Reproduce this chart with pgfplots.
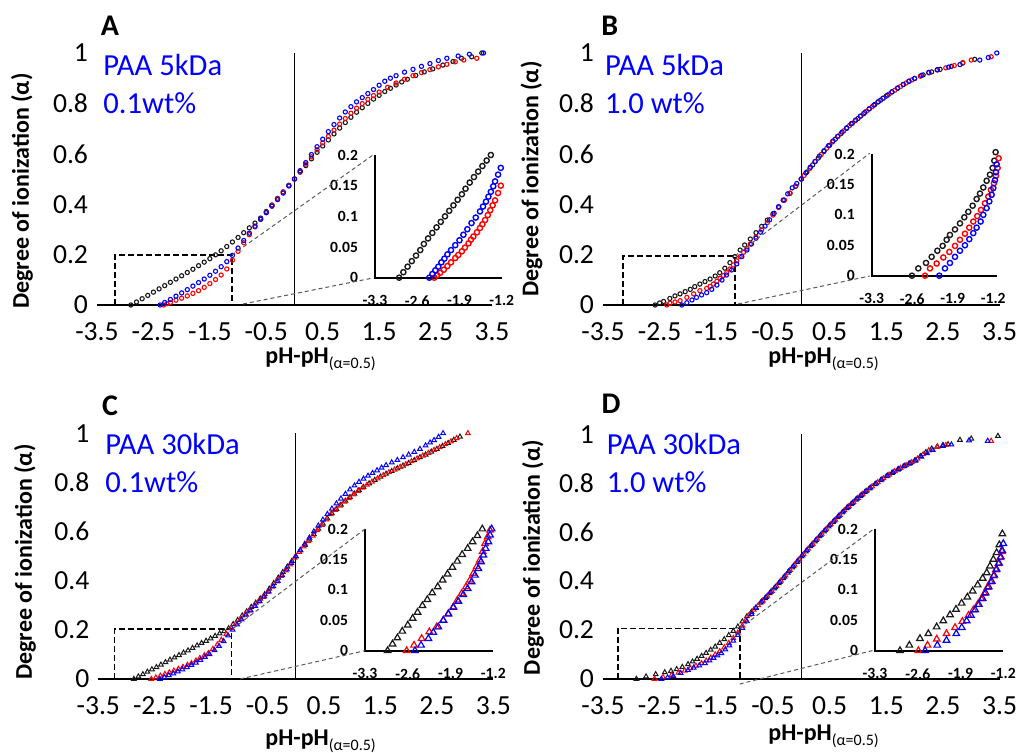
\documentclass[border=0pt]{standalone}
\usepackage{pgfplots}
\pgfplotsset{compat=1.18}
\usepackage{fontspec}
\setmainfont{Carlito}
\definecolor{cred}{RGB}{255,0,0}
\definecolor{cblue}{RGB}{0,0,255}
\definecolor{cblk}{RGB}{25,25,25}
\definecolor{cgray}{RGB}{90,90,90}
\pgfplotsset{
  mainax/.style={scale only axis, anchor=south west, xmin=-3.5, xmax=3.5, ymin=0, ymax=1, clip=false,
    axis line style={draw=none}, tick style={draw=none}, major tick length=0pt,
    xtick={-3.5,-2.5,-1.5,-0.5,0.5,1.5,2.5,3.5}, xticklabels={-3.5,-2.5,-1.5,-0.5,0.5,1.5,2.5,3.5},
    ytick={0,0.2,0.4,0.6,0.8,1}, yticklabels={0,0.2,0.4,0.6,0.8,1},
    every tick label/.append style={font=\fontsize{13.8bp}{13.8bp}\selectfont},
    xticklabel style={yshift=-5.5bp}, yticklabel style={xshift=-1bp}},
  insetax/.style={scale only axis, anchor=south west, xmin=-3.3, ymin=0, ymax=0.2, clip=false,
    axis line style={draw=none}, tick style={draw=none}, major tick length=0pt,
    xtick={-3.3,-2.6,-1.9,-1.2}, xticklabels={-3.3,-2.6,-1.9,-1.2},
    ytick={0,0.05,0.1,0.15,0.2}, yticklabels={0,0.05,0.1,0.15,0.2},
    every tick label/.append style={font=\bfseries\fontsize{7.8bp}{7.8bp}\selectfont},
    xticklabel style={yshift=-5.5bp}, yticklabel style={xshift=-5bp}},
  mo/.style={only marks, mark=o, mark size=1.05bp, mark options={line width=0.55bp}, color=#1},
  io/.style={only marks, mark=o, mark size=1.3bp, mark options={line width=0.7bp}, color=#1},
  mt/.style={only marks, mark=triangle, mark size=1.35bp, mark options={line width=0.5bp}, color=#1},
  it/.style={only marks, mark=triangle, mark size=1.9bp, mark options={line width=0.6bp}, color=#1},
}
\tikzset{
  rectdash/.style={black, line width=0.8bp, dash pattern=on 3bp off 1.5bp},
  conn/.style={cgray, line width=0.5bp, dash pattern=on 2bp off 1.5bp},
  letter/.style={font=\bfseries\fontsize{15bp}{15bp}\selectfont},
  bluetxt/.style={anchor=base west, inner sep=0pt, text=cblue, font=\fontsize{15.3bp}{15.3bp}\selectfont},
  ylab/.style={rotate=90, font=\bfseries\fontsize{12bp}{12bp}\selectfont},
  xlab/.style={anchor=base west, inner sep=0pt, font=\fontsize{12bp}{12bp}\selectfont},
}
\newcommand{\xlabtext}{\textbf{pH-pH}\raisebox{-2.5bp}{\fontsize{8bp}{8bp}\selectfont(α=0.5)}}

\begin{document}
\begin{tikzpicture}
\useasboundingbox (0,0) rectangle (508.5bp,376.5bp);

% ---------------- A ----------------
\begin{axis}[mainax, at={(48.5bp,224bp)}, width=197.5bp, height=126bp]
\addplot[mo=cblk] coordinates {(-2.90,0.000) (-2.80,0.012) (-2.70,0.025) (-2.60,0.038) (-2.50,0.051) (-2.40,0.064) (-2.30,0.077) (-2.20,0.090) (-2.10,0.103) (-2.00,0.116) (-1.90,0.129) (-1.80,0.142) (-1.70,0.156) (-1.60,0.170) (-1.50,0.184) (-1.40,0.199) (-1.30,0.215) (-1.20,0.232) (-1.10,0.250) (-1.00,0.268) (-0.90,0.287) (-0.80,0.306) (-0.70,0.325) (-0.60,0.345) (-0.50,0.371) (-0.40,0.397) (-0.30,0.423) (-0.20,0.449) (-0.10,0.475) (0.00,0.500) (0.10,0.527) (0.20,0.553) (0.30,0.580) (0.40,0.606) (0.50,0.631) (0.60,0.655) (0.70,0.679) (0.80,0.702) (0.90,0.724) (1.00,0.745) (1.10,0.765) (1.20,0.783) (1.30,0.800) (1.40,0.817) (1.50,0.832) (1.60,0.847) (1.70,0.860) (1.80,0.873) (1.90,0.885) (2.00,0.896) (2.15,0.911) (2.30,0.925) (2.45,0.937) (2.63,0.952) (2.81,0.966) (2.96,0.979) (3.14,0.985) (3.32,1.000)};
\addplot[mo=cred] coordinates {(-2.32,0.000) (-2.26,0.005) (-2.20,0.010) (-2.10,0.019) (-2.00,0.027) (-1.90,0.036) (-1.80,0.046) (-1.70,0.057) (-1.60,0.070) (-1.50,0.085) (-1.40,0.101) (-1.30,0.119) (-1.20,0.143) (-1.10,0.178) (-1.00,0.213) (-0.90,0.247) (-0.80,0.279) (-0.70,0.310) (-0.60,0.340) (-0.50,0.368) (-0.40,0.395) (-0.30,0.422) (-0.20,0.448) (-0.10,0.474) (0.00,0.500) (0.10,0.530) (0.20,0.559) (0.30,0.588) (0.40,0.616) (0.50,0.643) (0.60,0.669) (0.70,0.694) (0.80,0.718) (0.90,0.740) (1.00,0.761) (1.10,0.781) (1.20,0.799) (1.30,0.816) (1.40,0.831) (1.50,0.845) (1.65,0.864) (1.80,0.881) (1.95,0.896) (2.10,0.910) (2.25,0.922) (2.40,0.934) (2.55,0.945) (2.70,0.955) (2.85,0.965) (3.00,0.972) (3.23,0.979)};
\addplot[mo=cblue] coordinates {(-2.38,0.000) (-2.30,0.010) (-2.20,0.022) (-2.10,0.035) (-2.00,0.048) (-1.90,0.061) (-1.80,0.075) (-1.70,0.089) (-1.60,0.103) (-1.50,0.118) (-1.40,0.134) (-1.30,0.152) (-1.20,0.172) (-1.10,0.197) (-1.00,0.226) (-0.90,0.256) (-0.80,0.285) (-0.70,0.313) (-0.60,0.340) (-0.50,0.366) (-0.40,0.392) (-0.30,0.418) (-0.20,0.444) (-0.10,0.472) (0.00,0.500) (0.10,0.533) (0.20,0.565) (0.30,0.597) (0.40,0.628) (0.50,0.658) (0.60,0.688) (0.70,0.716) (0.80,0.742) (0.90,0.766) (1.00,0.787) (1.10,0.806) (1.20,0.823) (1.30,0.839) (1.40,0.855) (1.50,0.872) (1.60,0.888) (1.70,0.900) (1.80,0.910) (1.95,0.924) (2.10,0.935) (2.25,0.947) (2.40,0.958) (2.55,0.970) (2.70,0.979) (2.90,0.988) (3.10,0.995) (3.35,1.000)};
\draw[line width=1bp] (axis cs:-3.5,0) -- (axis cs:3.5,0);
\draw[line width=0.7bp] (axis cs:0,0) -- (axis cs:0,1);
\draw[rectdash] (axis cs:-3.18,0) -- (axis cs:-3.18,0.198) -- (axis cs:-1.11,0.198) -- (axis cs:-1.11,0);
\end{axis}
\begin{axis}[insetax, at={(187.5bp,237.65bp)}, width=63.35bp, height=61.35bp, xmax=-1.2]
\addplot[io=cblk] coordinates {(-2.90,0.000) (-2.83,0.009) (-2.76,0.018) (-2.69,0.027) (-2.62,0.036) (-2.55,0.045) (-2.49,0.055) (-2.42,0.064) (-2.35,0.073) (-2.28,0.082) (-2.21,0.091) (-2.14,0.100) (-2.07,0.109) (-2.00,0.118) (-1.93,0.127) (-1.86,0.136) (-1.80,0.145) (-1.73,0.155) (-1.66,0.164) (-1.59,0.173) (-1.52,0.182) (-1.45,0.191) (-1.38,0.200)};
\addplot[io=cred] coordinates {(-2.317,0.000) (-2.27,0.004) (-2.22,0.008) (-2.16,0.013) (-2.10,0.019) (-2.04,0.025) (-1.97,0.032) (-1.92,0.037) (-1.86,0.043) (-1.81,0.049) (-1.75,0.056) (-1.71,0.062) (-1.67,0.067) (-1.61,0.074) (-1.56,0.081) (-1.52,0.087) (-1.475,0.094) (-1.43,0.102) (-1.39,0.110) (-1.35,0.118) (-1.31,0.126) (-1.26,0.138) (-1.215,0.150)};
\addplot[io=cblue] coordinates {(-2.40,0.000) (-2.35,0.006) (-2.30,0.012) (-2.25,0.018) (-2.20,0.025) (-2.15,0.031) (-2.10,0.038) (-2.04,0.045) (-1.97,0.053) (-1.90,0.061) (-1.835,0.070) (-1.77,0.079) (-1.70,0.089) (-1.63,0.098) (-1.56,0.108) (-1.51,0.116) (-1.46,0.124) (-1.42,0.132) (-1.38,0.140) (-1.34,0.149) (-1.31,0.157) (-1.26,0.168) (-1.215,0.179)};
\draw[line width=1bp] (axis cs:-3.3,0.2) -- (axis cs:-3.3,0) -- (axis cs:-1.2,0);
\end{axis}
\draw[conn] (116bp,249bp) -- (186.5bp,299bp);
\draw[conn] (121.5bp,224.5bp) -- (186.5bp,237.5bp);
\node[letter] at (55bp,363.5bp) {A};
\node[bluetxt] at (51.5bp,338.5bp) {PAA 5kDa};
\node[bluetxt] at (51.5bp,319.85bp) {0.1wt\%};
\node[ylab] at (11bp,281bp) {Degree of ionization (α)};
\node[xlab] at (132.5bp,194.5bp) {\xlabtext};

% ---------------- B ----------------
\begin{axis}[mainax, at={(301.5bp,224bp)}, width=198.3bp, height=126bp]
\addplot[mo=cblk] coordinates {(-2.58,0.000) (-2.50,0.008) (-2.43,0.014) (-2.32,0.026) (-2.23,0.036) (-2.14,0.044) (-2.05,0.053) (-1.96,0.062) (-1.88,0.073) (-1.79,0.083) (-1.70,0.093) (-1.61,0.103) (-1.52,0.115) (-1.44,0.128) (-1.35,0.146) (-1.26,0.168) (-1.17,0.192) (-1.08,0.218) (-1.00,0.238) (-0.90,0.262) (-0.80,0.287) (-0.70,0.312) (-0.60,0.337) (-0.50,0.362) (-0.40,0.389) (-0.30,0.416) (-0.20,0.443) (-0.10,0.471) (0.00,0.500) (0.10,0.528) (0.20,0.556) (0.30,0.583) (0.40,0.609) (0.50,0.634) (0.60,0.658) (0.70,0.680) (0.80,0.701) (0.90,0.721) (1.00,0.740) (1.10,0.759) (1.20,0.778) (1.30,0.796) (1.40,0.813) (1.50,0.829) (1.60,0.845) (1.70,0.860) (1.80,0.875) (1.90,0.888) (2.00,0.899) (2.15,0.913) (2.30,0.925) (2.45,0.935) (2.65,0.947) (2.85,0.960) (3.06,0.975)};
\addplot[mo=cred] coordinates {(-2.375,0.000) (-2.32,0.007) (-2.23,0.012) (-2.14,0.017) (-2.02,0.030) (-1.90,0.044) (-1.79,0.057) (-1.67,0.066) (-1.61,0.074) (-1.55,0.083) (-1.49,0.094) (-1.435,0.106) (-1.375,0.117) (-1.316,0.128) (-1.26,0.143) (-1.20,0.159) (-1.14,0.175) (-1.08,0.192) (-1.02,0.209) (-0.96,0.225) (-0.90,0.242) (-0.80,0.270) (-0.70,0.298) (-0.60,0.327) (-0.50,0.357) (-0.40,0.387) (-0.30,0.416) (-0.20,0.444) (-0.10,0.472) (0.00,0.500) (0.05,0.514) (0.15,0.542) (0.25,0.570) (0.35,0.597) (0.45,0.622) (0.55,0.647) (0.65,0.670) (0.75,0.691) (0.85,0.712) (0.95,0.731) (1.05,0.750) (1.15,0.769) (1.25,0.787) (1.35,0.805) (1.45,0.821) (1.55,0.837) (1.65,0.852) (1.75,0.867) (1.85,0.881) (1.95,0.893) (2.10,0.908) (2.25,0.921) (2.40,0.932) (2.55,0.941) (2.70,0.950) (2.85,0.962) (3.00,0.972) (3.35,0.985)};
\addplot[mo=cblue] coordinates {(-2.11,0.000) (-2.02,0.009) (-1.93,0.020) (-1.85,0.030) (-1.76,0.040) (-1.67,0.049) (-1.58,0.062) (-1.49,0.079) (-1.40,0.099) (-1.32,0.119) (-1.23,0.139) (-1.14,0.163) (-1.05,0.192) (-0.96,0.218) (-0.88,0.242) (-0.80,0.265) (-0.72,0.289) (-0.64,0.313) (-0.56,0.338) (-0.48,0.364) (-0.40,0.390) (-0.32,0.416) (-0.24,0.441) (-0.16,0.465) (-0.08,0.482) (0.00,0.500) (0.08,0.524) (0.16,0.547) (0.24,0.569) (0.32,0.591) (0.40,0.612) (0.48,0.632) (0.56,0.651) (0.64,0.669) (0.72,0.686) (0.80,0.703) (0.88,0.719) (0.96,0.734) (1.04,0.749) (1.12,0.764) (1.20,0.779) (1.28,0.793) (1.36,0.807) (1.44,0.820) (1.52,0.833) (1.60,0.846) (1.70,0.861) (1.80,0.875) (1.90,0.888) (2.00,0.899) (2.12,0.911) (2.25,0.923) (2.40,0.934) (2.60,0.944) (2.80,0.954) (3.15,0.972) (3.30,0.982) (3.45,1.000)};
\draw[line width=1bp] (axis cs:-3.5,0) -- (axis cs:3.5,0);
\draw[line width=0.7bp] (axis cs:0,0) -- (axis cs:0,1);
\draw[rectdash] (axis cs:-3.15,0) -- (axis cs:-3.15,0.195) -- (axis cs:-1.17,0.195) -- (axis cs:-1.17,0);
\end{axis}
\begin{axis}[insetax, at={(435.85bp,238.65bp)}, width=62.5bp, height=60.85bp, xmax=-1.14]
\addplot[io=cblk] coordinates {(-2.604,0.000) (-2.495,0.012) (-2.362,0.021) (-2.264,0.031) (-2.166,0.041) (-2.074,0.049) (-2.005,0.059) (-1.948,0.067) (-1.861,0.076) (-1.775,0.086) (-1.700,0.096) (-1.631,0.105) (-1.556,0.115) (-1.487,0.126) (-1.429,0.135) (-1.372,0.145) (-1.314,0.156) (-1.257,0.166) (-1.211,0.177) (-1.182,0.189) (-1.159,0.203)};
\addplot[io=cred] coordinates {(-2.379,0.000) (-2.293,0.012) (-2.178,0.020) (-2.063,0.030) (-1.959,0.039) (-1.861,0.049) (-1.775,0.059) (-1.689,0.069) (-1.614,0.079) (-1.545,0.089) (-1.476,0.098) (-1.412,0.108) (-1.343,0.119) (-1.286,0.130) (-1.240,0.141) (-1.188,0.152) (-1.153,0.164) (-1.124,0.177) (-1.107,0.193)};
\addplot[io=cblue] coordinates {(-2.132,0.000) (-2.034,0.012) (-1.948,0.021) (-1.861,0.031) (-1.775,0.041) (-1.689,0.050) (-1.614,0.060) (-1.545,0.070) (-1.487,0.079) (-1.418,0.089) (-1.372,0.100) (-1.314,0.111) (-1.268,0.122) (-1.227,0.133) (-1.199,0.144) (-1.170,0.157) (-1.153,0.170) (-1.141,0.183)};
\draw[line width=1bp] (axis cs:-3.3,0.2) -- (axis cs:-3.3,0) -- (axis cs:-1.14,0);
\end{axis}
\draw[conn] (367.35bp,248.5bp) -- (434.85bp,299.85bp);
\draw[conn] (369bp,224.5bp) -- (434.85bp,238.5bp);
\node[letter] at (304.85bp,363.5bp) {B};
\node[bluetxt] at (302.35bp,338.5bp) {PAA 5kDa};
\node[bluetxt] at (302.35bp,319.85bp) {1.0 wt\%};
\node[ylab] at (265.7bp,287bp) {Degree of ionization (α)};
\node[xlab] at (384bp,194.5bp) {\xlabtext};

% ---------------- C ----------------
\begin{axis}[mainax, at={(49.15bp,37bp)}, width=197.5bp, height=122.85bp]
\addplot[mt=cblk] coordinates {(-2.87,0.000) (-2.79,0.010) (-2.71,0.019) (-2.63,0.029) (-2.55,0.039) (-2.47,0.048) (-2.39,0.058) (-2.31,0.068) (-2.23,0.078) (-2.15,0.087) (-2.07,0.097) (-1.99,0.107) (-1.91,0.116) (-1.83,0.126) (-1.75,0.136) (-1.67,0.146) (-1.59,0.155) (-1.51,0.165) (-1.43,0.175) (-1.35,0.185) (-1.27,0.194) (-1.19,0.206) (-1.11,0.223) (-1.03,0.240) (-0.95,0.258) (-0.87,0.275) (-0.79,0.293) (-0.71,0.310) (-0.63,0.327) (-0.55,0.345) (-0.47,0.367) (-0.39,0.390) (-0.31,0.412) (-0.23,0.435) (-0.15,0.457) (-0.07,0.480) (0.00,0.500) (0.08,0.523) (0.16,0.545) (0.24,0.567) (0.32,0.589) (0.40,0.611) (0.48,0.632) (0.56,0.653) (0.64,0.674) (0.72,0.692) (0.80,0.709) (0.88,0.725) (0.96,0.740) (1.04,0.754) (1.12,0.768) (1.20,0.781) (1.30,0.796) (1.40,0.810) (1.50,0.823) (1.60,0.835) (1.70,0.846) (1.80,0.857) (1.90,0.868) (2.00,0.879) (2.10,0.890) (2.20,0.902) (2.30,0.913) (2.40,0.925) (2.50,0.936) (2.60,0.948) (2.70,0.960) (2.80,0.973) (2.91,0.986)};
\addplot[mt=cred] coordinates {(-2.56,0.000) (-2.48,0.006) (-2.40,0.013) (-2.32,0.020) (-2.24,0.027) (-2.16,0.034) (-2.08,0.041) (-2.00,0.049) (-1.92,0.057) (-1.85,0.064) (-1.77,0.075) (-1.70,0.085) (-1.62,0.096) (-1.55,0.105) (-1.47,0.122) (-1.39,0.140) (-1.32,0.159) (-1.23,0.183) (-1.14,0.206) (-1.06,0.226) (-0.98,0.244) (-0.90,0.262) (-0.82,0.279) (-0.74,0.297) (-0.66,0.315) (-0.58,0.334) (-0.50,0.354) (-0.42,0.375) (-0.34,0.397) (-0.26,0.419) (-0.18,0.442) (-0.10,0.466) (-0.02,0.493) (0.06,0.517) (0.14,0.539) (0.22,0.561) (0.30,0.583) (0.38,0.605) (0.46,0.627) (0.54,0.649) (0.62,0.670) (0.70,0.688) (0.78,0.705) (0.86,0.721) (0.94,0.736) (1.02,0.751) (1.10,0.765) (1.18,0.778) (1.26,0.790) (1.35,0.803) (1.45,0.816) (1.55,0.829) (1.65,0.841) (1.75,0.852) (1.85,0.863) (1.95,0.874) (2.05,0.886) (2.15,0.897) (2.25,0.909) (2.35,0.920) (2.45,0.932) (2.55,0.943) (2.65,0.955) (2.75,0.967) (2.85,0.980) (3.05,1.000)};
\addplot[mt=cblue] coordinates {(-2.41,0.000) (-2.33,0.007) (-2.25,0.015) (-2.17,0.022) (-2.09,0.030) (-2.01,0.039) (-1.93,0.048) (-1.85,0.057) (-1.77,0.066) (-1.69,0.077) (-1.61,0.089) (-1.53,0.101) (-1.44,0.117) (-1.36,0.134) (-1.28,0.154) (-1.20,0.177) (-1.12,0.200) (-1.04,0.222) (-0.96,0.242) (-0.88,0.261) (-0.80,0.279) (-0.72,0.297) (-0.64,0.316) (-0.56,0.336) (-0.48,0.356) (-0.40,0.377) (-0.32,0.399) (-0.24,0.422) (-0.16,0.446) (-0.08,0.472) (0.00,0.498) (0.08,0.525) (0.16,0.550) (0.24,0.575) (0.32,0.600) (0.40,0.624) (0.48,0.648) (0.56,0.671) (0.64,0.693) (0.72,0.714) (0.80,0.734) (0.88,0.753) (0.96,0.771) (1.04,0.787) (1.12,0.802) (1.20,0.815) (1.28,0.827) (1.36,0.838) (1.44,0.849) (1.52,0.860) (1.60,0.870) (1.70,0.881) (1.80,0.891) (1.90,0.902) (2.00,0.913) (2.10,0.924) (2.20,0.936) (2.30,0.950) (2.38,0.962) (2.45,0.972) (2.53,0.985) (2.61,1.000)};
\draw[line width=1bp] (axis cs:-3.5,0) -- (axis cs:3.5,0);
\draw[line width=0.7bp] (axis cs:0,0) -- (axis cs:0,1);
\draw[rectdash] (axis cs:-3.21,0) -- (axis cs:-3.21,0.203) -- (axis cs:-1.14,0.203) -- (axis cs:-1.14,0);
\end{axis}
\begin{axis}[insetax, at={(182.5bp,51.15bp)}, width=64.15bp, height=60.85bp, xmax=-1.2]
\addplot[it=cblk] coordinates {(-2.93,0.000) (-2.85,0.011) (-2.77,0.021) (-2.69,0.032) (-2.60,0.042) (-2.52,0.053) (-2.44,0.063) (-2.36,0.074) (-2.28,0.084) (-2.20,0.095) (-2.11,0.105) (-2.03,0.116) (-1.95,0.126) (-1.87,0.137) (-1.79,0.147) (-1.71,0.158) (-1.62,0.168) (-1.54,0.179) (-1.46,0.189) (-1.38,0.200)};
\addplot[it=cred] coordinates {(-2.618,0.000) (-2.498,0.009) (-2.373,0.020) (-2.247,0.031) (-2.127,0.039) (-2.018,0.050) (-1.936,0.061) (-1.854,0.072) (-1.789,0.083) (-1.718,0.094) (-1.647,0.105) (-1.581,0.116) (-1.527,0.127) (-1.472,0.138) (-1.418,0.149) (-1.374,0.163) (-1.336,0.176) (-1.292,0.187) (-1.254,0.198)};
\addplot[it=cblue] coordinates {(-2.482,0.000) (-2.383,0.009) (-2.263,0.020) (-2.182,0.030) (-2.100,0.039) (-2.018,0.050) (-1.936,0.060) (-1.854,0.071) (-1.772,0.081) (-1.691,0.092) (-1.620,0.102) (-1.554,0.113) (-1.500,0.124) (-1.445,0.135) (-1.401,0.146) (-1.363,0.157) (-1.325,0.168) (-1.281,0.179) (-1.254,0.190) (-1.227,0.200)};
\draw[line width=1bp] (axis cs:-3.3,0.2) -- (axis cs:-3.3,0) -- (axis cs:-1.2,0);
\end{axis}
\draw[conn] (116.65bp,62.35bp) -- (182.5bp,112bp);
\draw[conn] (120bp,37bp) -- (182.5bp,51.15bp);
\node[letter] at (55bp,173.5bp) {C};
\node[bluetxt] at (52.5bp,149bp) {PAA 30kDa};
\node[bluetxt] at (52.5bp,130.2bp) {0.1wt\%};
\node[ylab] at (12.5bp,95.5bp) {Degree of ionization (α)};
\node[xlab] at (132.5bp,4bp) {\xlabtext};

% ---------------- D ----------------
\begin{axis}[mainax, at={(301.5bp,37bp)}, width=198.3bp, height=122.35bp]
\addplot[mt=cblk] coordinates {(-2.91,0.000) (-2.74,0.010) (-2.57,0.019) (-2.41,0.027) (-2.30,0.033) (-2.20,0.040) (-2.10,0.049) (-2.00,0.060) (-1.92,0.071) (-1.84,0.082) (-1.76,0.094) (-1.68,0.106) (-1.60,0.119) (-1.52,0.132) (-1.44,0.147) (-1.36,0.162) (-1.28,0.179) (-1.20,0.196) (-1.12,0.214) (-1.04,0.235) (-0.96,0.256) (-0.88,0.274) (-0.80,0.292) (-0.72,0.311) (-0.64,0.330) (-0.56,0.350) (-0.48,0.370) (-0.40,0.391) (-0.32,0.412) (-0.24,0.434) (-0.16,0.456) (-0.08,0.478) (0.00,0.500) (0.08,0.521) (0.16,0.542) (0.24,0.562) (0.32,0.583) (0.40,0.603) (0.48,0.623) (0.56,0.642) (0.64,0.661) (0.72,0.680) (0.80,0.698) (0.88,0.715) (0.96,0.732) (1.04,0.748) (1.12,0.763) (1.20,0.778) (1.30,0.796) (1.40,0.812) (1.50,0.828) (1.60,0.842) (1.70,0.855) (1.80,0.868) (1.90,0.880) (2.00,0.892) (2.10,0.910) (2.20,0.927) (2.30,0.941) (2.40,0.950) (2.50,0.956) (2.59,0.959) (2.80,0.977) (3.00,0.982) (3.47,0.993)};
\addplot[mt=cred] coordinates {(-2.59,0.000) (-2.44,0.008) (-2.29,0.016) (-2.17,0.025) (-2.06,0.034) (-1.96,0.044) (-1.86,0.054) (-1.76,0.064) (-1.68,0.075) (-1.60,0.087) (-1.52,0.100) (-1.44,0.113) (-1.36,0.129) (-1.28,0.147) (-1.20,0.167) (-1.12,0.189) (-1.04,0.218) (-0.98,0.240) (-0.92,0.262) (-0.84,0.283) (-0.76,0.301) (-0.68,0.320) (-0.60,0.340) (-0.52,0.360) (-0.44,0.380) (-0.36,0.401) (-0.28,0.423) (-0.20,0.445) (-0.12,0.467) (-0.04,0.489) (0.04,0.510) (0.12,0.532) (0.20,0.552) (0.28,0.573) (0.36,0.593) (0.44,0.613) (0.52,0.632) (0.60,0.651) (0.68,0.670) (0.76,0.689) (0.84,0.706) (0.92,0.723) (1.00,0.740) (1.08,0.755) (1.16,0.770) (1.25,0.787) (1.35,0.804) (1.45,0.820) (1.55,0.835) (1.65,0.849) (1.75,0.862) (1.85,0.874) (1.95,0.886) (2.05,0.900) (2.15,0.918) (2.25,0.934) (2.40,0.948) (2.55,0.956) (3.35,0.973)};
\addplot[mt=cblue] coordinates {(-2.47,0.000) (-2.36,0.006) (-2.26,0.012) (-2.13,0.024) (-2.00,0.037) (-1.90,0.046) (-1.80,0.055) (-1.70,0.064) (-1.62,0.075) (-1.55,0.086) (-1.48,0.096) (-1.41,0.105) (-1.34,0.120) (-1.27,0.137) (-1.20,0.156) (-1.12,0.180) (-1.04,0.208) (-0.96,0.236) (-0.88,0.266) (-0.80,0.290) (-0.70,0.316) (-0.62,0.335) (-0.54,0.355) (-0.46,0.375) (-0.38,0.396) (-0.30,0.418) (-0.22,0.440) (-0.14,0.461) (-0.06,0.483) (0.02,0.505) (0.10,0.526) (0.18,0.547) (0.26,0.568) (0.34,0.588) (0.42,0.608) (0.50,0.628) (0.58,0.647) (0.66,0.666) (0.74,0.684) (0.82,0.702) (0.90,0.719) (0.98,0.736) (1.06,0.752) (1.14,0.767) (1.22,0.781) (1.32,0.799) (1.42,0.815) (1.52,0.831) (1.62,0.845) (1.72,0.858) (1.82,0.870) (1.92,0.882) (2.02,0.893) (2.12,0.908) (2.22,0.922) (2.32,0.936) (2.50,0.952) (2.65,0.958) (2.96,0.975) (3.29,0.973)};
\draw[line width=1bp] (axis cs:-3.5,0) -- (axis cs:3.5,0);
\draw[line width=0.7bp] (axis cs:0,0) -- (axis cs:0,1);
\draw[rectdash] (axis cs:-3.235,0) -- (axis cs:-3.235,0.207) -- (axis cs:-1.087,0.207) -- (axis cs:-1.087,0);
\end{axis}
\begin{axis}[insetax, at={(437.5bp,51.15bp)}, width=64.15bp, height=60.85bp, xmax=-1.2]
\addplot[it=cblk] coordinates {(-2.891,0.000) (-2.738,0.009) (-2.564,0.020) (-2.427,0.028) (-2.291,0.039) (-2.182,0.049) (-2.072,0.059) (-1.974,0.068) (-1.882,0.078) (-1.789,0.088) (-1.702,0.098) (-1.620,0.108) (-1.538,0.119) (-1.472,0.128) (-1.418,0.139) (-1.363,0.150) (-1.309,0.161) (-1.265,0.174) (-1.216,0.192)};
\addplot[it=cred] coordinates {(-2.59,0.000) (-2.44,0.009) (-2.29,0.019) (-2.13,0.028) (-1.99,0.038) (-1.87,0.048) (-1.77,0.058) (-1.69,0.067) (-1.62,0.076) (-1.56,0.085) (-1.51,0.094) (-1.46,0.104) (-1.41,0.113) (-1.36,0.123) (-1.32,0.133) (-1.28,0.143) (-1.25,0.153) (-1.22,0.163)};
\addplot[it=cblue] coordinates {(-2.48,0.000) (-2.28,0.009) (-2.13,0.017) (-1.97,0.028) (-1.88,0.038) (-1.80,0.049) (-1.73,0.058) (-1.66,0.067) (-1.60,0.076) (-1.54,0.086) (-1.49,0.095) (-1.44,0.105) (-1.39,0.114) (-1.35,0.124) (-1.31,0.134) (-1.27,0.144) (-1.24,0.154) (-1.22,0.165) (-1.20,0.176)};
\draw[line width=1bp] (axis cs:-3.3,0.2) -- (axis cs:-3.3,0) -- (axis cs:-1.2,0);
\end{axis}
\draw[conn] (369.85bp,62.35bp) -- (437.35bp,112.35bp);
\draw[conn] (369.85bp,34.5bp) -- (437.35bp,51.5bp);
\node[letter] at (305.5bp,174.5bp) {D};
\node[bluetxt] at (303.2bp,149bp) {PAA 30kDa};
\node[bluetxt] at (303.2bp,130.2bp) {1.0 wt\%};
\node[ylab] at (266.5bp,97.75bp) {Degree of ionization (α)};
\node[xlab] at (384bp,6.5bp) {\xlabtext};
\end{tikzpicture}
\end{document}
